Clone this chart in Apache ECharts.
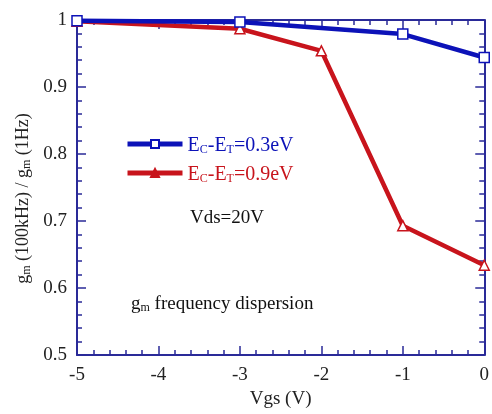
<!DOCTYPE html>
<html style="height: 100%">
<head>
	<meta charset="utf-8">
</head>
<body style="height: 100%; margin: 0; background: #fff">
<div id="container" style="width: 492px; height: 414px"></div>
<script type="text/javascript" src="https://cdn.jsdelivr.net/npm/echarts@6/dist/echarts.min.js"></script>
<script type="text/javascript">
    var dom = document.getElementById("container");
    var myChart = echarts.init(dom);

    // data
    var vgsBlue = [-5, -3, -1, 0];
    var ratioBlue = [0.999, 0.997, 0.979, 0.944];
    var vgsRed = [-5, -3, -2, -1, 0];
    var ratioRed = [0.998, 0.987, 0.954, 0.693, 0.634];
    var seriesNames = ['0.3', '0.9'];

    var axisColor = '#2a2a98';
    var blue = '#0c12b8';
    var red = '#c8141c';
    var font = '"Liberation Serif", "DejaVu Serif", serif';

    function pairs(xs, ys) {
        return xs.map(function (x, i) { return [x, ys[i]]; });
    }

    // rich text with subscripts
    function subRich(color, size) {
        return {
            n: { fontFamily: font, fontSize: size, color: color, verticalAlign: 'bottom', lineHeight: 24 },
            s: { fontFamily: font, fontSize: 12, color: color, verticalAlign: 'bottom', lineHeight: 11, padding: [12, 0, 0, 0] }
        };
    }

    function axisBase(pos) {
        return {
            type: 'value',
            position: pos,
            axisLine: { show: true, onZero: false, lineStyle: { color: axisColor, width: 2 } },
            axisTick: { show: true, inside: true, length: 9, lineStyle: { color: axisColor, width: 1.5 } },
            minorTick: { show: true, splitNumber: 5, length: 5, lineStyle: { color: axisColor, width: 1.5 } },
            axisLabel: { show: false },
            splitLine: { show: false }
        };
    }

    var xBottom = axisBase('bottom');
    xBottom.min = -5; xBottom.max = 0; xBottom.interval = 1;
    xBottom.name = 'Vgs (V)';
    xBottom.nameLocation = 'middle';
    xBottom.nameGap = 35;
    xBottom.nameTextStyle = { fontFamily: font, fontSize: 19, color: '#222' };
    xBottom.axisLabel = { show: true, fontFamily: font, fontSize: 19, color: '#222', margin: 11 };

    var xTop = axisBase('top');
    xTop.min = -5; xTop.max = 0; xTop.interval = 1;

    var yLeft = axisBase('left');
    yLeft.min = 0.5; yLeft.max = 1; yLeft.interval = 0.1;
    yLeft.name = '{n|g}{s|m}{n| (100kHz) / g}{s|m}{n| (1Hz)}';
    yLeft.nameLocation = 'middle';
    yLeft.nameGap = 43;
    yLeft.nameRotate = 90;
    yLeft.nameTextStyle = { color: '#222', padding: [0, 22, 0, 0], rich: subRich('#222', 18) };
    yLeft.axisLabel = { show: true, fontFamily: font, fontSize: 19, color: '#222', margin: 10 };

    var yRight = axisBase('right');
    yRight.min = 0.5; yRight.max = 1; yRight.interval = 0.1;

    var option = {
        backgroundColor: '#fff',
        animation: false,
        grid: { left: 77, right: 6, top: 20, bottom: 55 },
        legend: {
            orient: 'vertical',
            left: 120,
            top: 127,
            itemWidth: 55,
            itemHeight: 10,
            itemGap: 5,
            lineStyle: { width: 5 },
            data: [{
                name: seriesNames[0],
                textStyle: { color: blue, rich: subRich(blue, 20) }
            }, {
                name: seriesNames[1],
                itemStyle: { color: red },
                textStyle: { color: red, rich: subRich(red, 20) }
            }],
            formatter: function (name) {
                return '{n|E}{s|C}{n|-E}{s|T}{n|=' + name + 'eV}';
            }
        },
        xAxis: [xBottom, xTop],
        yAxis: [yLeft, yRight],
        graphic: [{
            type: 'text', left: 190, top: 209,
            style: { text: 'Vds=20V', font: '19px ' + font, fill: '#111' }
        }, {
            type: 'text', left: 131, top: 290,
            style: {
                text: '{n|g}{s|m}{n| frequency dispersion}',
                rich: {
                    n: { fontFamily: font, fontSize: 19, fill: '#111', verticalAlign: 'bottom', lineHeight: 24 },
                    s: { fontFamily: font, fontSize: 12, fill: '#111', verticalAlign: 'bottom', lineHeight: 11, padding: [12, 0, 0, 0] }
                }
            }
        }],
        series: [{
            name: seriesNames[0],
            type: 'line',
            data: pairs(vgsBlue, ratioBlue),
            symbol: 'rect',
            symbolSize: 10,
            lineStyle: { color: blue, width: 4.5 },
            itemStyle: { color: '#fff', borderColor: blue, borderWidth: 1.5 },
            z: 3
        }, {
            name: seriesNames[1],
            type: 'line',
            data: pairs(vgsRed, ratioRed),
            symbol: 'triangle',
            symbolSize: 10,
            lineStyle: { color: red, width: 4.5 },
            itemStyle: { color: '#fff', borderColor: red, borderWidth: 1.5 },
            z: 2
        }]
    };

    myChart.setOption(option, true);
</script>
</body>
</html>
